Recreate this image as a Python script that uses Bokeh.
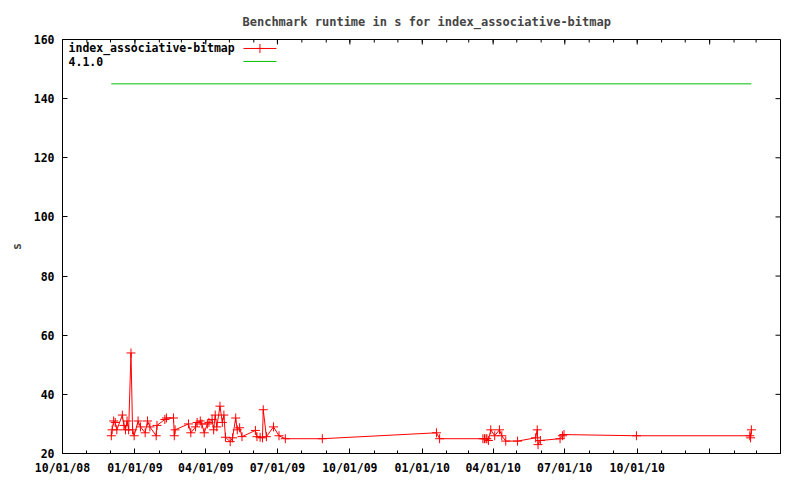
import pandas as pd
from bokeh.plotting import figure
from bokeh.models import Range1d, FixedTicker
from bokeh.core.properties import value
from bokeh.embed import file_html
from bokeh.resources import INLINE

title_text = "Benchmark runtime in s for index_associative-bitmap"
series_label = "index_associative-bitmap"
ref_label = "4.1.0"
ref_seconds = 145

run_dates = [
    "2008-12-02", "2008-12-03", "2008-12-05", "2008-12-07", "2008-12-09",
    "2008-12-16", "2008-12-18", "2008-12-20", "2008-12-22", "2008-12-24",
    "2008-12-27", "2008-12-29", "2008-12-31", "2009-01-05", "2009-01-08",
    "2009-01-14", "2009-01-17", "2009-01-20", "2009-01-28", "2009-01-29",
    "2009-02-08", "2009-02-10", "2009-02-19", "2009-02-20", "2009-02-21",
    "2009-03-10", "2009-03-13", "2009-03-19", "2009-03-21", "2009-03-25",
    "2009-03-27", "2009-03-30", "2009-04-03", "2009-04-05", "2009-04-09",
    "2009-04-11", "2009-04-13", "2009-04-15", "2009-04-19", "2009-04-22",
    "2009-04-24", "2009-04-26", "2009-05-02", "2009-05-05", "2009-05-09",
    "2009-05-11", "2009-05-14", "2009-05-17", "2009-06-03", "2009-06-05",
    "2009-06-09", "2009-06-12", "2009-06-13", "2009-06-17", "2009-06-26",
    "2009-07-03", "2009-07-11", "2009-08-27", "2010-01-19", "2010-01-23",
    "2010-03-19", "2010-03-21", "2010-03-23", "2010-03-24", "2010-03-26",
    "2010-03-29", "2010-04-03", "2010-04-09", "2010-04-12", "2010-04-17",
    "2010-05-02", "2010-05-25", "2010-05-27", "2010-05-28", "2010-05-31",
    "2010-06-25", "2010-06-28", "2010-06-30", "2010-09-30", "2011-02-21",
    "2011-02-22", "2011-02-23",
]
run_seconds = [
    26, 28, 31, 30.5, 28,
    33, 29.5, 28, 31, 28,
    54, 28, 26, 31, 29,
    27, 31, 29, 26, 29.5,
    31.5, 32, 32, 26, 28,
    30, 27, 29, 30.5, 31,
    30, 27, 30, 30.5, 31.5,
    28, 33, 29, 36, 30.5,
    33, 25.5, 24, 25.3, 32,
    28, 28.7, 25.7, 27.8, 25.7,
    25.5, 25.3, 34.8, 25.7, 29,
    26, 25, 25, 27, 25,
    25, 25, 25, 25, 24.4,
    28, 26, 28, 26, 24.2,
    24.2, 25.3, 28, 23, 24.4,
    25, 26, 26.4, 26, 26,
    25.3, 28,
]

x_tick_dates = ["2008-10-01", "2009-01-01", "2009-04-01", "2009-07-01", "2009-10-01",
                "2010-01-01", "2010-04-01", "2010-07-01", "2010-10-01", "2011-01-01"]
x_tick_labels = ["10/01/08", "01/01/09", "04/01/09", "07/01/09", "10/01/09",
                 "01/01/10", "04/01/10", "07/01/10", "10/01/10", ""]
y_ticks = [20, 40, 60, 80, 100, 120, 140, 160]
x_start, x_end = "2008-10-01", "2011-04-01"
y_start, y_end = 20, 160

FONT = "DejaVu Sans Mono"
FRAME_W, FRAME_H = 718, 414
MAJOR_LEN, MINOR_LEN = 5, 3


def ms(d):
    return pd.Timestamp(d).value / 1e6


xs = [ms(d) for d in run_dates]
x0, x1 = ms(x_start), ms(x_end)

p = figure(width=800, height=480,
           x_range=Range1d(x0, x1), y_range=Range1d(y_start, y_end),
           output_backend="svg", toolbar_location=None,
           min_border_left=62, min_border_right=20, min_border_top=39, min_border_bottom=27)
p.background_fill_color = "white"
p.border_fill_color = "white"
p.outline_line_color = "black"
p.outline_line_width = 1
p.xgrid.visible = False
p.ygrid.visible = False

p.title.text = title_text
p.title.align = "left"
p.title.offset = 180
p.title.text_font = FONT
p.title.text_font_size = "12px"
p.title.text_font_style = "bold"
p.title.vertical_align = "top"
p.title.standoff = 18

major_x = [ms(d) for d in x_tick_dates]
minor_x = [ms(d) for d in pd.date_range(x_start, x_end, freq="MS")]
xticker = FixedTicker(ticks=major_x, minor_ticks=minor_x)
yticker = FixedTicker(ticks=y_ticks)


def style(ax):
    ax.axis_line_color = "black"
    ax.major_tick_in = MAJOR_LEN
    ax.major_tick_out = 0
    ax.minor_tick_in = MINOR_LEN
    ax.minor_tick_out = 0
    ax.major_tick_line_color = "black"
    ax.minor_tick_line_color = "black"
    ax.major_label_text_font = FONT
    ax.major_label_text_font_style = "bold"
    ax.major_label_text_font_size = "11.5px"
    ax.major_label_text_color = "black"


xa = p.xaxis[0]
xa.ticker = xticker
xa.major_label_overrides = {m: lab for m, lab in zip(major_x, x_tick_labels)}
style(xa)
xa.major_label_standoff = 7

ya = p.yaxis[0]
ya.ticker = yticker
style(ya)
ya.minor_tick_line_color = None
ya.major_label_standoff = 8
ya.axis_label = "s"
ya.axis_label_text_font = FONT
ya.axis_label_text_font_style = "bold"
ya.axis_label_text_font_size = "11.5px"
ya.axis_label_standoff = 7

# mirrored ticks on the top and right borders
dy_major = MAJOR_LEN / FRAME_H * (y_end - y_start)
dy_minor = MINOR_LEN / FRAME_H * (y_end - y_start)
dx_major = MAJOR_LEN / FRAME_W * (x1 - x0)
p.segment(x0=major_x, x1=major_x, y0=[y_end] * len(major_x), y1=[y_end - dy_major] * len(major_x),
          line_color="black", line_width=1)
p.segment(x0=minor_x, x1=minor_x, y0=[y_end] * len(minor_x), y1=[y_end - dy_minor] * len(minor_x),
          line_color="black", line_width=1)
p.segment(x0=[x1] * len(y_ticks), x1=[x1 - dx_major] * len(y_ticks), y0=y_ticks, y1=y_ticks,
          line_color="black", line_width=1)

# reference line
p.line(x=[xs[0], xs[-1]], y=[ref_seconds, ref_seconds], line_color="#00c000", line_width=1)

# series
p.line(x=xs, y=run_seconds, line_color="#ff0000", line_width=1)
p.scatter(x=xs, y=run_seconds, marker="cross", size=9, line_color="#ff0000", line_width=1)


# legend (top-left, text then sample)
def fx(f):
    return x0 + f * (x1 - x0)


def fy(f):
    return y_start + f * (y_end - y_start)


p.text(x=[fx(0.0084), fx(0.0084)], y=[fy(0.9783), fy(0.947)], text=[series_label, ref_label],
       text_font=value(FONT), text_font_style="bold", text_font_size="11.5px",
       text_baseline="middle", text_align="left", text_color="black")
p.line(x=[fx(0.252), fx(0.298)], y=[fy(0.9783), fy(0.9783)], line_color="#ff0000", line_width=1)
p.scatter(x=[fx(0.275)], y=[fy(0.9783)], marker="cross", size=9, line_color="#ff0000")
p.line(x=[fx(0.252), fx(0.298)], y=[fy(0.947), fy(0.947)], line_color="#00c000", line_width=1)

open("out.html", "w").write(file_html(p, INLINE))
